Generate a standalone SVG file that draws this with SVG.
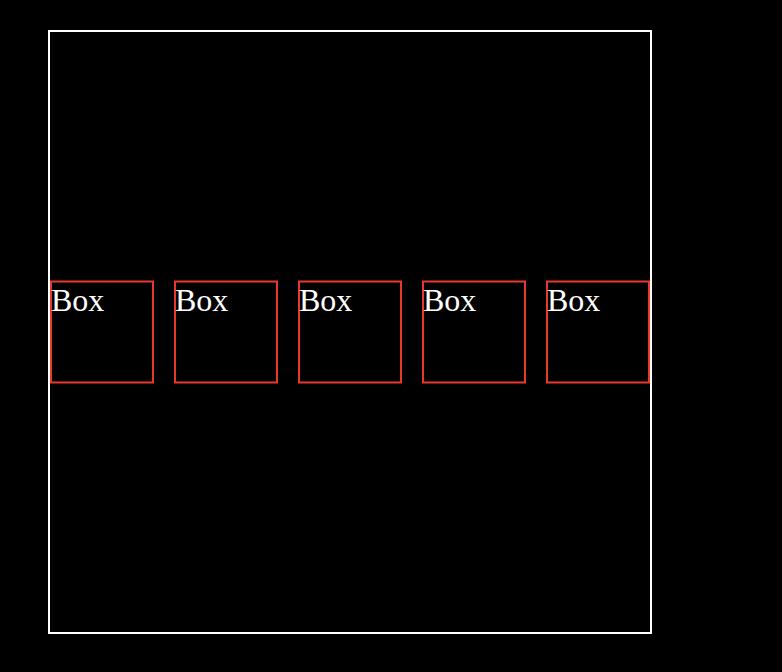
<svg xmlns="http://www.w3.org/2000/svg" width="782" height="672" viewBox="0 0 782 672">
<style>
.box{fill:none;stroke:#e8392b;stroke-width:2}
.lbl{font-family:"Liberation Serif",serif;font-size:32px;fill:#ffffff}
</style>
<rect x="0" y="0" width="782" height="672" fill="#000000"/>
<g id="frame"><rect x="49" y="31" width="602" height="602" fill="none" stroke="#ffffff" stroke-width="2"/></g>
<g id="connectors"></g>
<g id="box1"><rect class="box" x="51" y="281.5" width="102" height="101"/><text class="lbl" x="51" y="311">Box</text></g>
<g id="box2"><rect class="box" x="175" y="281.5" width="102" height="101"/><text class="lbl" x="175" y="311">Box</text></g>
<g id="box3"><rect class="box" x="299" y="281.5" width="102" height="101"/><text class="lbl" x="299" y="311">Box</text></g>
<g id="box4"><rect class="box" x="423" y="281.5" width="102" height="101"/><text class="lbl" x="423" y="311">Box</text></g>
<g id="box5"><rect class="box" x="547" y="281.5" width="102" height="101"/><text class="lbl" x="547" y="311">Box</text></g>
</svg>
